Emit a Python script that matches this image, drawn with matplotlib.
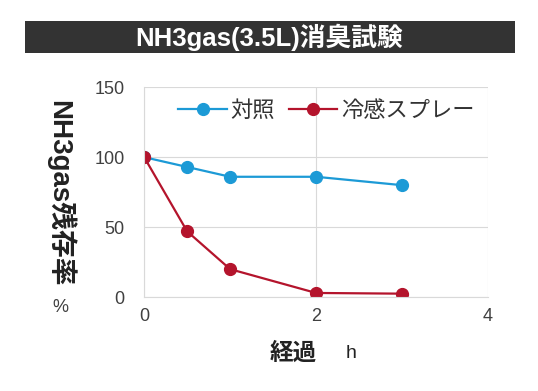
import matplotlib.pyplot as plt
from matplotlib.patches import Rectangle

plt.rcParams['font.family'] = ['Liberation Sans', 'Noto Sans CJK JP']

hours = [0, 0.5, 1, 2, 3]
control = [100, 93, 86, 86, 80]
spray = [100, 47, 20, 3, 2.5]
series_names = ['対照', '冷感スプレー']
title = 'NH3gas(3.5L)消臭試験'

fig = plt.figure(figsize=(5.38, 3.91), dpi=100)
ax = fig.add_axes([0.268, 0.240, 0.639, 0.537])

# banner behind the title
fig.patches.append(Rectangle((0.046, 0.864), 0.911, 0.082, transform=fig.transFigure,
                             facecolor='#333333', edgecolor='none'))
fig.text(0.5, 0.905, title, color='white', fontsize=18.5, fontweight='bold',
         ha='center', va='center')

ax.plot(hours, control, '-o', color='#1c9ad6', lw=1.6, ms=8.5, label=series_names[0])
ax.plot(hours, spray, '-o', color='#b4142c', lw=1.6, ms=8.5, label=series_names[1])

ax.set_xlim(0, 4)
ax.set_ylim(0, 150)
ax.set_xticks([0, 2, 4])
ax.set_yticks([0, 50, 100, 150])
ax.grid(color='#d9d9d9', lw=0.8)
ax.set_axisbelow(True)
for s in ['top', 'right']:
    ax.spines[s].set_visible(False)
for s in ['left', 'bottom']:
    ax.spines[s].set_color('#d9d9d9')
ax.tick_params(length=0, labelsize=13, colors='#404040')
ax.tick_params(axis='y', pad=14)
ax.tick_params(axis='x', pad=8)

leg = ax.legend(loc='upper center', bbox_to_anchor=(0.53, 1.01), ncol=2, frameon=False,
                fontsize=16, handlelength=2.2, columnspacing=0.6, handletextpad=0.15,
                borderaxespad=0.3)
for t in leg.get_texts():
    t.set_color('#333333')

fig.text(0.112, 0.505, 'NH3gas残存率', rotation=-90, fontsize=20, fontweight='bold',
         color='#222222', ha='center', va='center')
fig.text(0.112, 0.213, '%', fontsize=13, color='#404040', ha='center', va='center')

fig.text(0.545, 0.097, '経過', fontsize=17, fontweight='bold', color='#222222',
         ha='center', va='center')
fig.text(0.652, 0.097, 'h', fontsize=14, color='#222222', ha='center', va='center')

fig.savefig('out.png', dpi=100)
